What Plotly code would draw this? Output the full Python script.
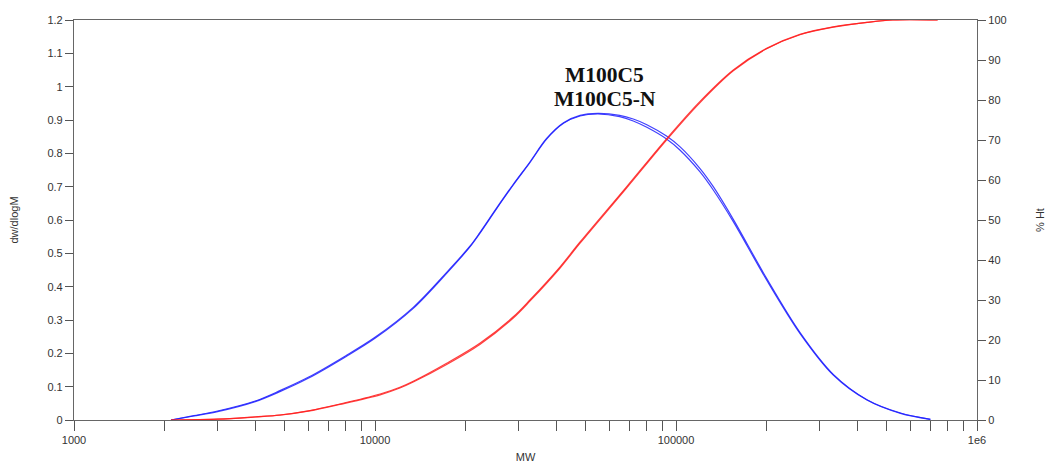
import plotly.graph_objects as go

# Molecular weight positions (x) and readings
mw_blue = [2100, 2500, 3000, 4000, 4830, 6000, 8000, 10000, 13400, 17300, 20700, 22300,
           25400, 28800, 32700, 37100, 42300, 48000, 55000, 65000, 72100, 80000, 93000,
           103000, 120000, 133000, 155000, 200000, 258000, 333000, 431000, 557000, 700000]
dw_m100c5 = [0.0, 0.012, 0.025, 0.055, 0.085, 0.125, 0.19, 0.245, 0.335, 0.44, 0.52, 0.56,
             0.635, 0.705, 0.772, 0.842, 0.89, 0.912, 0.918, 0.91, 0.897, 0.878, 0.843,
             0.81, 0.745, 0.69, 0.595, 0.42, 0.26, 0.135, 0.06, 0.02, 0.002]
dw_m100c5n = [0.0, 0.013, 0.027, 0.057, 0.088, 0.128, 0.193, 0.248, 0.338, 0.443, 0.522, 0.562,
              0.637, 0.707, 0.774, 0.844, 0.892, 0.914, 0.92, 0.914, 0.903, 0.886, 0.852,
              0.82, 0.755, 0.70, 0.602, 0.425, 0.263, 0.137, 0.061, 0.021, 0.002]

mw_red = [2100, 3000, 4000, 4830, 6000, 7650, 10400, 12100, 13400, 17300, 22300, 28800,
          32700, 41200, 48000, 68500, 93000, 120000, 155000, 200000, 258000, 333000,
          431000, 525000, 740000]
ht_m100c5 = [0.0, 0.2, 0.8, 1.25, 2.3, 4.0, 6.5, 8.2, 9.7, 14.2, 19.2, 25.8,
             30.0, 38.3, 44.5, 58.3, 70.3, 79.6, 87.5, 92.9, 96.4, 98.3,
             99.4, 100.0, 100.0]
ht_m100c5n = [0.0, 0.2, 0.75, 1.2, 2.2, 3.9, 6.3, 8.0, 9.5, 13.9, 18.9, 25.5,
              29.7, 38.0, 44.2, 58.0, 70.0, 79.3, 87.3, 92.8, 96.3, 98.2,
              99.4, 100.0, 100.0]

x_tickvals = [m * d for d in (1000, 10000, 100000) for m in range(1, 10)] + [1000000]
x_labels = {1000: "1000", 10000: "10000", 100000: "100000", 1000000: "1e6"}
x_ticktext = [x_labels.get(v, "") for v in x_tickvals]
sample_names = ["M100C5", "M100C5-N"]

fig = go.Figure()
for ys, name in zip([dw_m100c5, dw_m100c5n], sample_names):
    fig.add_trace(go.Scatter(x=mw_blue, y=ys, mode="lines", name=name,
                             line=dict(color="rgba(30,30,255,0.85)", width=1.2,
                                       shape="spline", smoothing=0.9),
                             showlegend=False))
for ys, name in zip([ht_m100c5, ht_m100c5n], sample_names):
    fig.add_trace(go.Scatter(x=mw_red, y=ys, mode="lines", name=name, yaxis="y2",
                             line=dict(color="rgba(255,30,30,0.85)", width=1.2,
                                       shape="spline", smoothing=0.9),
                             showlegend=False))

axfont = dict(family="Liberation Sans, Arial, sans-serif", size=11, color="#333")
linecol = "#666"
annfont = dict(family="Liberation Serif, Times New Roman, serif", size=21.5, color="#111")

# page body has an 8px margin, so the figure is sized/offset to compensate
fig.update_layout(
    width=1049, height=462,
    margin=dict(l=66, r=80, t=12, b=50),
    paper_bgcolor="white", plot_bgcolor="white",
    font=axfont,
    xaxis=dict(type="log", range=[3, 6], tickvals=x_tickvals, ticktext=x_ticktext,
               ticks="outside", ticklen=10, tickcolor="#555", showgrid=False, zeroline=False,
               showline=True, linecolor=linecol, linewidth=1.2, mirror=True, automargin=False,
               title=dict(text="MW", font=axfont, standoff=8), tickfont=axfont),
    yaxis=dict(range=[0, 1.2], dtick=0.1, ticks="outside", ticklen=8, tickcolor="#555",
               showgrid=False, zeroline=False, showline=True, linecolor=linecol, linewidth=1.2,
               automargin=False,
               title=dict(text="dw/dlogM", font=axfont, standoff=26), tickfont=axfont),
    yaxis2=dict(range=[0, 100], dtick=10, overlaying="y", side="right", ticks="outside",
                ticklen=8, tickcolor="#555", showgrid=False, zeroline=False, showline=True,
                linecolor=linecol, linewidth=1.2, automargin=False,
                title=dict(text="% Ht", font=axfont, standoff=30), tickfont=axfont),
    annotations=[
        dict(x=0.588, y=1.035, xref="paper", yref="y", text="<b>M100C5</b>", showarrow=False,
             font=annfont),
        dict(x=0.588, y=0.962, xref="paper", yref="y", text="<b>M100C5-N</b>", showarrow=False,
             font=annfont),
    ],
)

fig.write_html("out.html")
